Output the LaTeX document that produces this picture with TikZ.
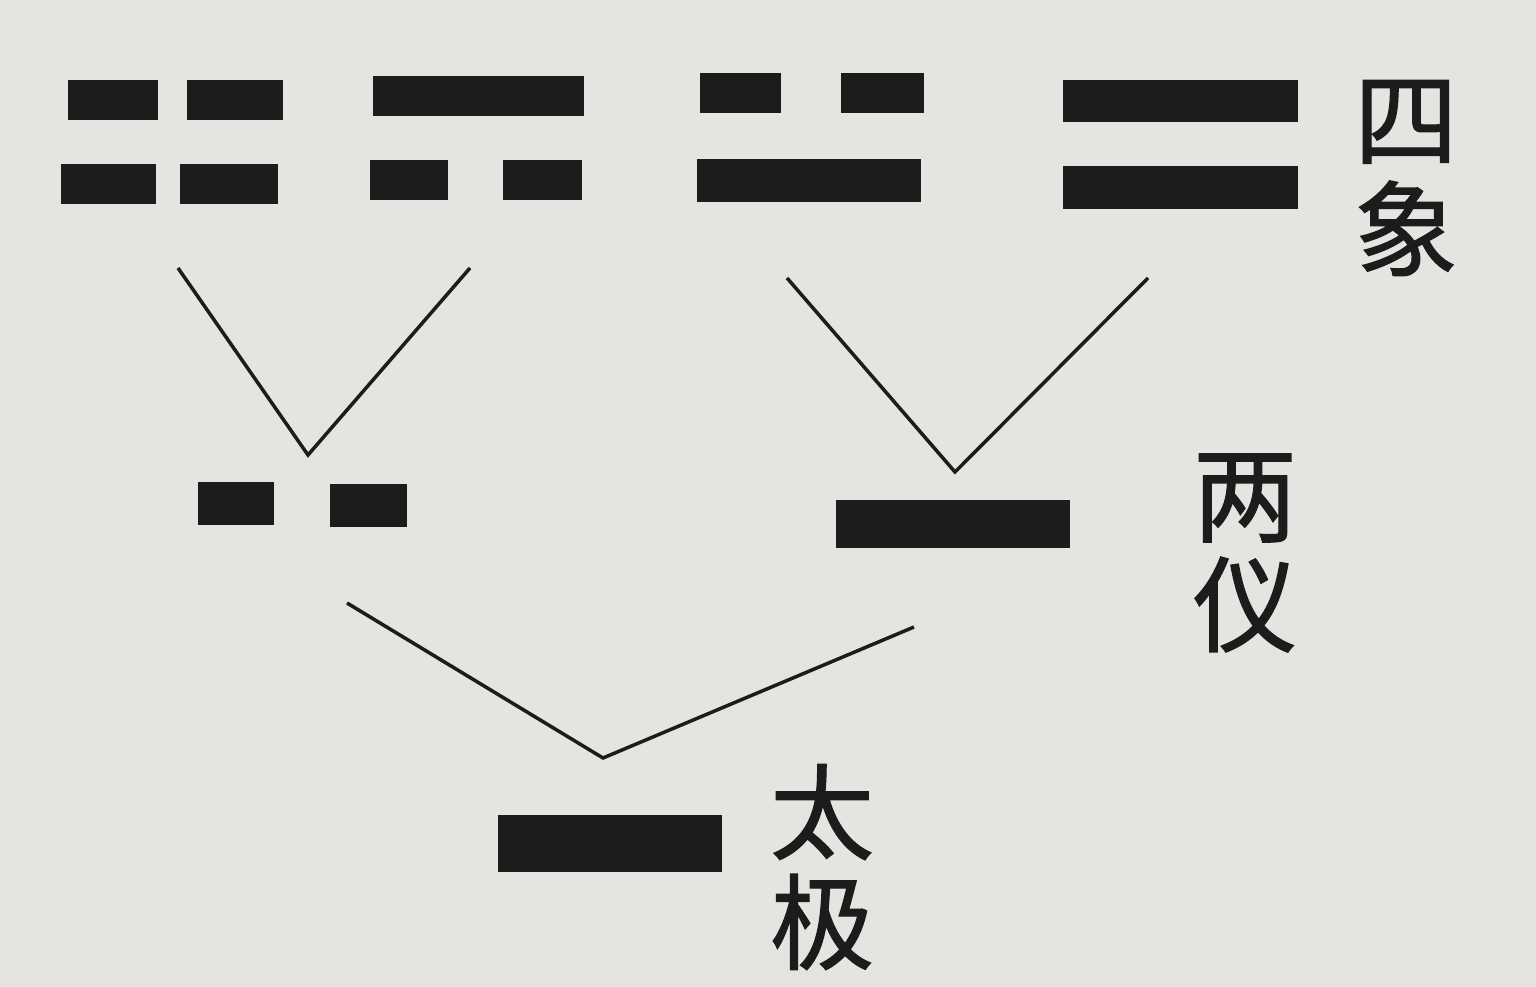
\documentclass[tikz,border=0pt]{standalone}
\usepackage{fontspec}
\newfontfamily\cjk{Noto Sans CJK SC}[FakeBold=1.2]
\definecolor{paper}{RGB}{228,228,225}
\definecolor{ink}{RGB}{28,28,28}
\tikzset{
  bar/.style={rectangle, fill=ink, inner sep=0pt, minimum height=40pt},
  stem/.style={draw=ink, line width=3.5pt},
  hanzi/.style={align=center, text=ink, font=\cjk\fontsize{104}{110}\selectfont}
}

\begin{document}
\begin{tikzpicture}[x=1pt, y=-1pt]
\fill[paper] (0,0) rectangle (1536,987);
\useasboundingbox (0,0) rectangle (1536,987);

% four images
\node[bar, minimum width=90pt] (a1) at (113,100) {};
\node[bar, minimum width=96pt] (a2) at (235,100) {};
\node[bar, minimum width=95pt] (a3) at (108,184) {};
\node[bar, minimum width=98pt] (a4) at (229,184) {};
\node[bar, minimum width=211pt] (b1) at (478,96) {};
\node[bar, minimum width=78pt] (b2) at (409,180) {};
\node[bar, minimum width=79pt] (b3) at (542,180) {};
\node[bar, minimum width=81pt] (c1) at (740,93) {};
\node[bar, minimum width=83pt] (c2) at (882,93) {};
\node[bar, minimum width=224pt, minimum height=43pt] (c3) at (809,181) {};
\node[bar, minimum width=235pt, minimum height=42pt] (d1) at (1180,101) {};
\node[bar, minimum width=235pt, minimum height=43pt] (d2) at (1180,188) {};
\node[hanzi] (sixiang) at (1406,178) {四\\象};

% two modes
\node[bar, minimum width=76pt, minimum height=43pt] (e1) at (236,503) {};
\node[bar, minimum width=77pt, minimum height=43pt] (e2) at (368,505) {};
\node[bar, minimum width=234pt, minimum height=48pt] (f1) at (953,524) {};
\node[hanzi] (liangyi) at (1245,553) {两\\仪};

% supreme ultimate
\node[bar, minimum width=224pt, minimum height=57pt] (g1) at (610,843) {};
\node[hanzi] (taiji) at (822,867) {太\\极};

\coordinate (v1l) at (178,268);
\coordinate (v1m) at (308,455);
\coordinate (v1r) at (470,268);
\coordinate (v2l) at (787,278);
\coordinate (v2m) at (955,472);
\coordinate (v2r) at (1148,278);
\coordinate (v3l) at (347,603);
\coordinate (v3m) at (603,758);
\coordinate (v3r) at (914,627);

\draw[stem] (v1l) -- (v1m) -- (v1r);
\draw[stem] (v2l) -- (v2m) -- (v2r);
\draw[stem] (v3l) -- (v3m) -- (v3r);
\end{tikzpicture}
\end{document}
